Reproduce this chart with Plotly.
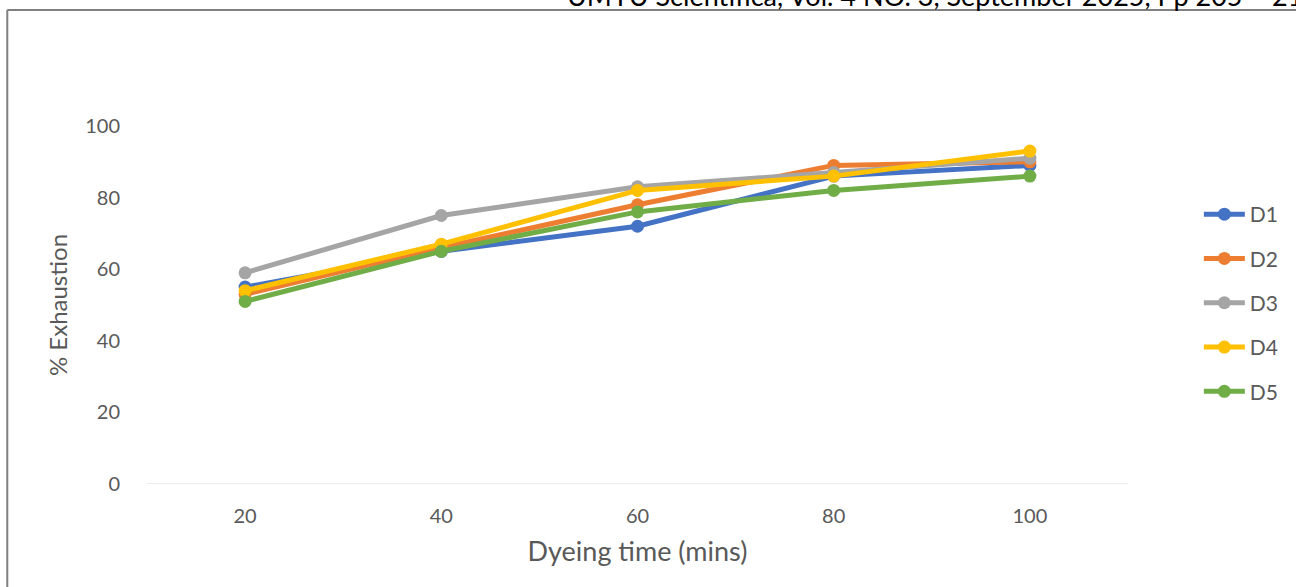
import plotly.graph_objects as go

times = [20, 40, 60, 80, 100]
tick_labels = ["20", "40", "60", "80", "100"]
D1 = [55, 65, 72, 86, 89]
D2 = [53, 66, 78, 89, 90]
D3 = [59, 75, 83, 87, 91]
D4 = [54, 67, 82, 86, 93]
D5 = [51, 65, 76, 82, 86]

series = [("D1", D1, "#4472C4"), ("D2", D2, "#ED7D31"), ("D3", D3, "#A5A5A5"),
          ("D4", D4, "#FFC000"), ("D5", D5, "#70AD47")]

FONT = "Lato"
GREY = "#595959"
W, H = 1296, 587
L, R, T, B = 147, 166, 126, 103
pw, ph = W - L - R, H - T - B

def px_x(x):
    return (x - L) / pw

def px_y(y):
    return (H - B - y) / ph

fig = go.Figure()
for name, vals, col in series:
    fig.add_trace(go.Scatter(
        x=times, y=vals, name=name, mode="lines+markers",
        line=dict(color=col, width=5),
        marker=dict(color=col, size=13),
        legendgroup=name,
    ))

fig.update_layout(
    width=W, height=H,
    margin=dict(l=L, r=R, t=T, b=B),
    paper_bgcolor="white", plot_bgcolor="white",
    font=dict(family=FONT, size=20, color=GREY),
    showlegend=True,
    legend=dict(x=px_x(1201), y=px_y(194), xanchor="left", yanchor="top",
                font=dict(size=21, color=GREY), tracegroupgap=14,
                itemwidth=41, bgcolor="rgba(0,0,0,0)"),
    xaxis=dict(range=[10, 110], tickvals=times, ticktext=tick_labels,
               showgrid=False, zeroline=False, showline=False, ticks="",
               title=dict(text="Dyeing time (mins)", font=dict(size=27, color=GREY), standoff=16),
               tickfont=dict(size=20, color=GREY), ticklabelstandoff=18),
    yaxis=dict(range=[0, 100], tickvals=[0, 20, 40, 60, 80, 100],
               showgrid=False, zeroline=False, showline=False, ticks="",
               title=dict(text="% Exhaustion", font=dict(size=24, color=GREY), standoff=10),
               tickfont=dict(size=20, color=GREY), ticklabelstandoff=26),
)

# axis baseline
fig.add_shape(type="line", xref="paper", yref="y", x0=0, x1=1, y0=0, y1=0,
              line=dict(color="#D9D9D9", width=1), layer="below")
# page frame
fig.add_shape(type="line", xref="paper", yref="paper", x0=px_x(7), x1=px_x(1300),
              y0=px_y(10), y1=px_y(10), line=dict(color="#808080", width=2))
fig.add_shape(type="line", xref="paper", yref="paper", x0=px_x(7), x1=px_x(7),
              y0=px_y(10), y1=px_y(600), line=dict(color="#808080", width=2))

fig.add_annotation(text="UMYU Scientifica, Vol. 4 NO. 3, September 2025, Pp 205 – 215",
                   xref="paper", yref="paper", x=px_x(566), y=px_y(14),
                   xanchor="left", yanchor="bottom", showarrow=False,
                   font=dict(size=27, color="#000000", family=FONT))

fig.write_html("out.html")
